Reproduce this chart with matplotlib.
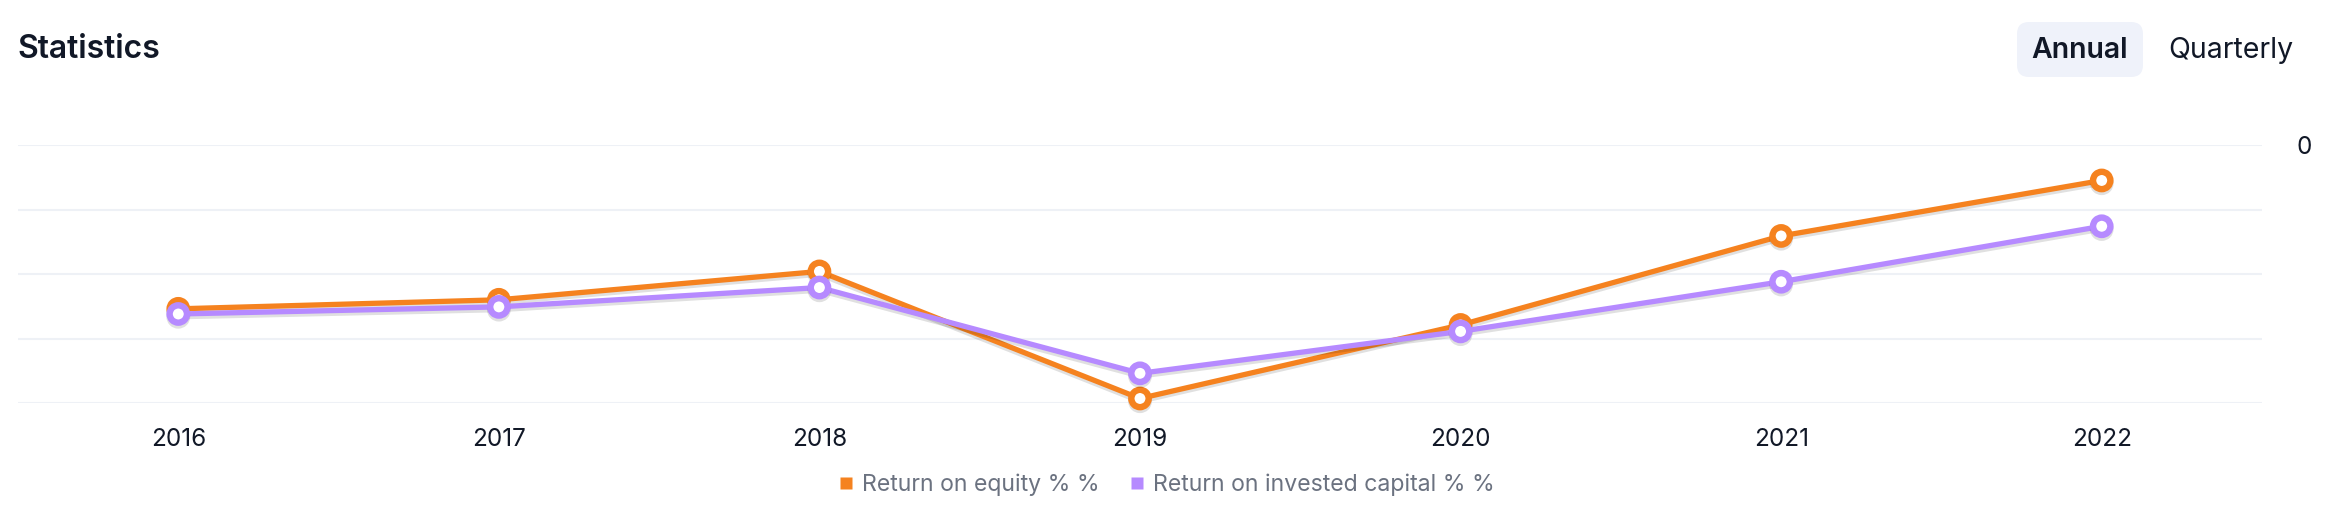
import matplotlib.pyplot as plt
import matplotlib.patheffects as pe
from matplotlib.lines import Line2D
from matplotlib.patches import FancyBboxPatch
from matplotlib.transforms import IdentityTransform

plt.rcParams['font.family'] = ['Inter', 'DejaVu Sans']

# данные графика
years = ['2016', '2017', '2018', '2019', '2020', '2021', '2022']
roe = [-25.4, -24.0, -19.6, -39.3, -27.9, -14.1, -5.5]
roic = [-26.2, -25.1, -22.1, -35.4, -28.9, -21.2, -12.6]
y_ticks = [0, -10, -20, -30, -40]
y_tick_labels = ['0', '', '', '', '']

ORANGE = '#f5821f'
PURPLE = '#b68aff'
GRID = '#eef1f6'
TEXT = '#111827'

W, H = 2338, 514
fig = plt.figure(figsize=(W / 100, H / 100), dpi=100)
ax = fig.add_axes([18 / W, 111 / H, (2262 - 18) / W, (403 - 145) / H])

shadow = [pe.SimpleLineShadow(offset=(0, -2), shadow_color='#000000', alpha=0.12),
          pe.Normal()]

x = list(range(len(years)))
for vals, col, lab in [(roe, ORANGE, 'Return on equity % %'),
                       (roic, PURPLE, 'Return on invested capital % %')]:
    ax.plot(x, vals, color=col, lw=3.8, marker='o', markersize=12.5,
            markeredgewidth=4.6, markerfacecolor='white', markeredgecolor=col,
            clip_on=False, zorder=3, path_effects=shadow, label=lab)

ax.set_xlim(-0.5, len(years) - 0.5)
ax.set_ylim(-40, 0)
ax.set_xticks(x)
ax.set_xticklabels(years)
ax.set_yticks(y_ticks)
ax.set_yticklabels(y_tick_labels)
ax.yaxis.tick_right()
ax.grid(axis='y', color=GRID, lw=1.5)
ax.set_axisbelow(True)
for s in ax.spines.values():
    s.set_visible(False)
ax.tick_params(axis='x', length=0, pad=18, labelsize=17.5, labelcolor=TEXT)
ax.tick_params(axis='y', length=0, pad=25, labelsize=17.5, labelcolor=TEXT)

# заголовок и переключатель
fig.text(17 / W, 1 - 49 / H, 'Statistics', fontsize=23, fontweight='semibold',
         color=TEXT, va='center', ha='left')
btn = FancyBboxPatch((2017, H - 77), 126, 55,
                     boxstyle='round,pad=0,rounding_size=12',
                     transform=IdentityTransform(), facecolor='#eff2fa',
                     edgecolor='none')
fig.patches.append(btn)
fig.text(2080 / W, 1 - 50 / H, 'Annual', fontsize=20.5, fontweight='semibold',
         color=TEXT, va='center', ha='center')
fig.text(2231 / W, 1 - 50 / H, 'Quarterly', fontsize=20.5,
         color=TEXT, va='center', ha='center')

# легенда
handles = [Line2D([], [], ls='none', marker='s', markersize=9,
                  markerfacecolor=c, markeredgecolor='none')
           for c in (ORANGE, PURPLE)]
fig.legend(handles, ['Return on equity % %', 'Return on invested capital % %'],
           loc='center', bbox_to_anchor=(0.499, 29 / H), ncol=2, frameon=False,
           fontsize=16.6, labelcolor='#6b7280', handlelength=0.6,
           handletextpad=0.4, columnspacing=1.3)

fig.savefig('out.png', dpi=100)
